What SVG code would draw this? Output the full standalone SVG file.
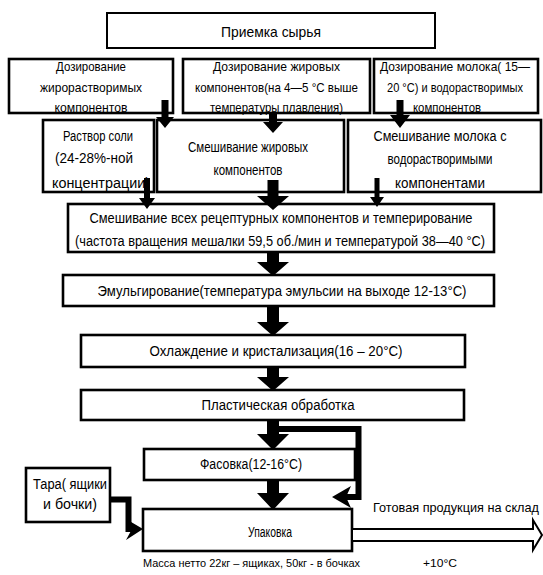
<svg xmlns="http://www.w3.org/2000/svg" width="543" height="575" viewBox="0 0 543 575">
<style>
.b{fill:#fff;stroke:#000;stroke-width:2.6}
text{font-family:"Liberation Sans",Arial,sans-serif;fill:#000;text-anchor:middle}
.s12{font-size:13px}
.s13{font-size:14px}
.s14{font-size:15px}
.s11{font-size:11.5px;text-anchor:start}
.st{text-anchor:start}
.ar{fill:#000;stroke:none}
.ln{fill:none;stroke:#000;stroke-width:6}
</style>
<rect width="543" height="575" fill="#fff"/>
<g id="n-priemka"><rect class="b" x="107" y="13" width="328" height="35" style="stroke-width:2"/><text class="s14" x="271" y="37" textLength="100" lengthAdjust="spacingAndGlyphs">Приемка сырья</text></g>
<g id="n-doz-zhiroras"><rect class="b" x="9" y="59" width="164" height="54"/>
<text class="s12" x="91" y="71" textLength="70" lengthAdjust="spacingAndGlyphs">Дозирование</text>
<text class="s12" x="91" y="91.5" textLength="102" lengthAdjust="spacingAndGlyphs">жирорастворимых</text>
<text class="s12" x="91" y="111.5" textLength="73" lengthAdjust="spacingAndGlyphs">компонентов</text></g>
<g id="n-doz-zhir"><rect class="b" x="183" y="59" width="187" height="54"/>
<text class="s12" x="276.5" y="71" textLength="127" lengthAdjust="spacingAndGlyphs">Дозирование жировых</text>
<text class="s12" x="276.5" y="91.5" textLength="163" lengthAdjust="spacingAndGlyphs">компонентов(на 4—5 °С выше</text>
<text class="s12" x="276.5" y="111.5" textLength="133" lengthAdjust="spacingAndGlyphs">температуры плавления)</text></g>
<g id="n-doz-moloko"><rect class="b" x="374" y="59" width="164" height="54"/>
<text class="s12" x="455" y="71" textLength="150" lengthAdjust="spacingAndGlyphs">Дозирование молока( 15—</text>
<text x="455" y="91.5" style="font-size:12px" textLength="136" lengthAdjust="spacingAndGlyphs">20 °С) и водорастворимых</text>
<text class="s12" x="447" y="111.5" textLength="68" lengthAdjust="spacingAndGlyphs">компонентов</text></g>
<g id="n-rastvor"><rect class="b" x="43" y="120" width="111" height="72"/>
<text class="s13" x="98" y="141" textLength="70" lengthAdjust="spacingAndGlyphs">Раствор соли</text>
<text class="s13" x="94" y="163" textLength="78" lengthAdjust="spacingAndGlyphs">(24-28%-ной</text>
<text class="s13" x="101" y="188" textLength="98" lengthAdjust="spacingAndGlyphs">концентрации)</text></g>
<g id="n-smesh-zhir"><rect class="b" x="157" y="120" width="187" height="72"/>
<text class="s13" x="248" y="152" textLength="120" lengthAdjust="spacingAndGlyphs">Смешивание жировых</text>
<text class="s13" x="248" y="175" textLength="69" lengthAdjust="spacingAndGlyphs">компонентов</text></g>
<g id="n-smesh-moloko"><rect class="b" x="348" y="120" width="193" height="72"/>
<text class="s13" x="440" y="141" textLength="133" lengthAdjust="spacingAndGlyphs">Смешивание молока с</text>
<text class="s13" x="440" y="164" textLength="105" lengthAdjust="spacingAndGlyphs">водорастворимыми</text>
<text class="s13" x="440" y="188" textLength="90" lengthAdjust="spacingAndGlyphs">компонентами</text></g>
<g id="n-smesh-vseh"><rect class="b" x="68" y="204" width="426" height="48"/>
<text class="s13" x="281" y="223" textLength="383" lengthAdjust="spacingAndGlyphs">Смешивание всех рецептурных компонентов и темперирование</text>
<text class="s13" x="280" y="246" textLength="410" lengthAdjust="spacingAndGlyphs">(частота вращения мешалки 59,5 об./мин и температурой 38—40 °С)</text></g>
<g id="n-emul"><rect class="b" x="63" y="275" width="431" height="31"/>
<text class="s13" x="282" y="296" textLength="369" lengthAdjust="spacingAndGlyphs">Эмульгирование(температура эмульсии на выходе 12-13°С)</text></g>
<g id="n-ohlazhd"><rect class="b" x="81" y="335" width="384" height="32"/>
<text class="s13" x="276" y="356" textLength="253" lengthAdjust="spacingAndGlyphs">Охлаждение и кристализация(16 – 20°С)</text></g>
<g id="n-plast"><rect class="b" x="81" y="390" width="383" height="30"/>
<text class="s13" x="278" y="410" textLength="153" lengthAdjust="spacingAndGlyphs">Пластическая обработка</text></g>
<g id="n-fasovka"><rect class="b" x="144" y="449" width="211" height="31"/>
<text class="s13" x="251" y="469" textLength="102" lengthAdjust="spacingAndGlyphs">Фасовка(12-16°С)</text></g>
<g id="n-tara"><rect class="b" x="26" y="468" width="84" height="54"/>
<text class="s13" x="70" y="489" textLength="74" lengthAdjust="spacingAndGlyphs">Тара( ящики</text>
<text class="s13" x="70" y="509" textLength="54" lengthAdjust="spacingAndGlyphs">и бочки)</text></g>
<g id="n-upakovka"><rect class="b" x="143" y="509" width="209" height="42"/>
<text class="s13 st" x="248" y="537" textLength="44" lengthAdjust="spacingAndGlyphs">Упаковка</text></g>
<g id="labels">
<text class="s12 st" x="373" y="512" textLength="166" lengthAdjust="spacingAndGlyphs">Готовая продукция на склад</text>
<text class="s11" x="143" y="567" textLength="217" lengthAdjust="spacingAndGlyphs">Масса нетто 22кг – ящиках, 50кг - в бочках</text>
<text class="s11" x="423" y="567" textLength="34" lengthAdjust="spacingAndGlyphs">+10°С</text>
</g>
<g id="connectors">
<path class="ar" d="M161.5,100H168.5V117H174L165,128L156,117H161.5Z"/>
<path class="ar" d="M269,113H277V122H283L273,133L263,122H269Z"/>
<path class="ar" d="M396.5,100H403.5V115H410L400,128L390,115H396.5Z"/>
<path class="ar" d="M144,178H150V198H155L147,209L139,198H144Z"/>
<path class="ar" d="M267.5,180H278.5V196H289L273,210L257,196H267.5Z"/>
<path class="ar" d="M374.5,178H379.5V197H384L377,207L370,197H374.5Z"/>
<path class="ar" d="M267,252H279V262H289L273,276L257,262H267Z"/>
<path class="ar" d="M267,306H279V322H289L273,336L257,322H267Z"/>
<path class="ar" d="M267,367H279V377H289L273,391L257,377H267Z"/>
<path class="ar" d="M267,420H279V434H289L273,450L257,434H267Z"/>
<path class="ar" d="M267,480H279V493H289L273,510L257,493H267Z"/>
<polyline class="ln" points="278,429 358.5,429 358.5,497 346,497"/>
<polygon class="ar" points="351,486 332,497 351,508 346,497"/>
<polyline class="ln" points="110,499.5 128.5,499.5 128.5,529 136,529"/>
<polygon class="ar" points="126,519 143,529 126,540 132,529"/>
<polygon fill="#fff" stroke="#000" stroke-width="2" points="352,529 533,529 533,520 542,535 533,550 533,541 352,541"/>
</g>
</svg>
